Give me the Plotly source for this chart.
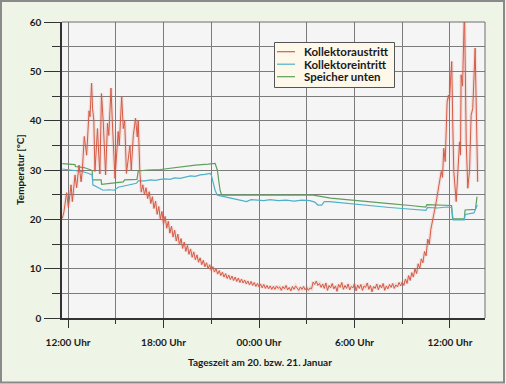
import plotly.graph_objects as go

# ---------------- data (hours since 20 Jan 00:00) ----------------
# Kollektoraustritt, afternoon of day 1 (irregular samples)
red_a_t = [11.64, 11.74, 11.91, 12.02, 12.19, 12.27, 12.44, 12.54, 12.69, 12.82,
           12.90, 13.02, 13.17, 13.32, 13.38, 13.48, 13.54, 13.62, 13.69, 13.85,
           13.93, 14.00, 14.10, 14.21, 14.36, 14.48, 14.56, 14.70, 14.78, 14.95,
           15.15, 15.22, 15.37, 15.47, 15.56, 15.67, 15.89, 15.97, 16.10, 16.24,
           16.35, 16.41, 16.51, 16.60]
red_a_v = [20.2, 21.5, 25.4, 22.4, 27.0, 23.6, 29.0, 26.4, 31.0, 27.6,
           30.0, 36.8, 33.0, 42.0, 40.8, 47.6, 42.5, 40.0, 29.7, 38.4,
           33.0, 29.2, 45.5, 39.8, 29.0, 39.5, 37.0, 46.6, 40.0, 28.3,
           37.8, 35.0, 45.0, 38.4, 40.0, 29.3, 35.0, 30.0, 37.0, 40.5,
           36.7, 40.0, 29.7, 25.5]

# Kollektoraustritt, evening / night / morning (sampled every 0.1 h from 16.7 h)
red_b_start = 16.7
red_b_step = 0.1
red_b_v = [27.0, 25.0, 26.4, 24.2, 25.6, 23.2, 24.6, 22.2, 23.7, 21.0,
           22.6, 20.0, 21.6, 19.0, 20.6, 18.2, 19.6, 17.2, 18.6, 16.4,
           17.8, 15.6, 17.0, 14.8, 16.1, 14.1, 15.4, 13.5, 14.7, 12.9,
           14.0, 12.3, 13.4, 11.8, 12.8, 11.3, 12.2, 10.8, 11.7, 10.4,
           11.2, 10.0, 10.8, 9.6, 10.4, 9.3, 10.0, 8.9, 9.6, 8.6,
           9.3, 8.3, 9.0,
           8.0, 8.7, 7.8, 8.5, 7.6, 8.3, 7.4, 8.1, 7.2, 7.9,
           7.1, 7.7, 6.9, 7.5, 6.7, 7.4, 6.6, 7.2, 6.4, 7.0,
           6.3, 6.9, 6.1, 6.8, 6.0, 6.6, 5.9, 6.5, 5.8, 6.4,
           5.8, 6.5, 6.0, 6.3, 5.6, 6.4, 5.9, 6.6, 5.7, 6.2,
           5.5, 6.4, 5.8, 6.5, 6.0, 5.6, 6.3, 5.8, 6.4, 5.7,
           6.2, 5.6, 6.1, 5.9,
           7.3, 6.8, 7.5, 6.6, 7.0, 6.2,
           6.9, 6.0, 7.1, 5.6, 6.6, 6.1, 7.0, 5.9, 6.5, 5.4,
           6.8, 6.2, 7.2, 5.8, 6.6, 6.0, 6.9, 5.7, 6.4, 6.1,
           7.0, 5.5, 6.7, 6.0, 6.8, 5.6, 6.5, 6.2, 7.1, 5.8,
           6.6, 5.3, 6.4, 6.0, 6.9, 5.7, 6.7, 6.1, 7.0, 5.6,
           6.5, 5.9, 6.8, 6.2, 7.0, 6.0, 6.7, 6.3, 7.2, 6.5,
           7.3, 6.6, 7.9, 7.0, 8.6, 7.6, 9.2, 8.3, 10.0, 9.0,
           11.0, 10.0, 12.0, 11.2, 13.5, 12.6, 16.0, 15.0, 18.0]

# Kollektoraustritt, midday of day 2 (irregular samples)
red_d_t = [34.90, 35.03, 35.14, 35.24, 35.34, 35.45, 35.53, 35.61, 35.70, 35.82,
           35.91, 35.97, 36.03, 36.11, 36.17, 36.24, 36.39, 36.49, 36.60, 36.66,
           36.70, 36.79, 36.91, 37.02, 37.12, 37.23, 37.33, 37.43, 37.58, 37.64,
           37.74]
red_d_v = [19.5, 21.5, 23.6, 25.6, 27.6, 29.7, 28.5, 34.4, 31.7, 43.8,
           45.2, 44.0, 47.9, 52.0, 40.0, 29.7, 23.6, 31.0, 35.7, 33.0,
           49.3, 47.0, 63.0, 35.7, 26.3, 30.0, 41.1, 42.5, 54.7, 44.6,
           27.6]

# Kollektoreintritt
cyan_t = [11.64, 12.2, 12.5, 12.9, 13.3, 13.52, 13.56, 13.8, 14.0, 14.2,
          14.6, 14.9, 15.15, 15.5, 15.9, 16.3, 16.41, 16.8, 17.2, 17.5,
          17.8, 18.1, 18.4, 18.7, 19.04, 19.4, 19.7, 20.0, 20.3, 20.6,
          20.92, 21.0, 21.09, 21.24, 21.38, 21.76, 22.2, 22.8, 23.22, 23.5,
          23.85, 24.3, 24.7, 25.2, 25.7, 26.2, 26.7, 27.2, 27.5, 27.7,
          27.94, 28.1, 28.44, 29.0, 29.6, 30.33, 31.0, 31.6, 32.21, 33.0,
          33.8, 34.48, 34.6, 35.2, 35.8, 36.1, 36.2, 36.9, 36.95, 37.5,
          37.6, 37.72]
cyan_v = [30.2, 30.0, 29.8, 29.7, 29.3, 29.0, 27.0, 26.6, 26.4, 25.9,
          26.0, 25.9, 26.5, 26.7, 27.0, 27.3, 27.8, 27.8, 28.0, 27.9,
          28.1, 28.2, 28.1, 28.4, 28.3, 28.6, 28.8, 28.7, 29.0, 29.1,
          29.3, 29.0, 27.7, 25.9, 24.9, 24.6, 24.3, 23.9, 23.6, 24.0,
          23.9, 23.8, 24.0, 23.8, 23.9, 23.7, 23.9, 23.8, 23.5, 22.9,
          22.9, 23.6, 23.6, 23.4, 23.2, 23.0, 22.8, 22.6, 22.4, 22.2,
          22.0, 21.8, 22.4, 22.3, 22.5, 22.4, 19.9, 19.9, 21.0, 21.3,
          22.0, 22.9]

# Speicher unten
green_t = [11.64, 12.1, 12.44, 12.46, 13.0, 13.45, 13.52, 13.54, 14.08, 14.11,
           14.6, 15.0, 15.47, 15.55, 16.33, 16.41, 17.0, 17.8, 18.5, 19.3,
           20.0, 20.8, 21.24, 21.38, 21.55, 21.66, 23.0, 25.0, 27.4, 28.5,
           30.0, 31.0, 32.2, 33.5, 34.48, 34.55, 35.5, 36.1, 36.16, 36.9,
           36.95, 37.6, 37.7]
green_v = [31.3, 31.2, 31.1, 30.7, 30.5, 30.0, 29.8, 28.0, 28.0, 27.1,
           27.3, 27.4, 27.6, 28.0, 28.1, 29.8, 30.0, 30.1, 30.4, 30.7,
           31.0, 31.2, 31.35, 30.0, 25.9, 24.9, 24.9, 24.9, 24.9, 24.3,
           23.8, 23.5, 23.2, 22.8, 22.5, 23.0, 22.9, 22.8, 20.1, 20.1,
           21.9, 22.0, 24.6]

x_tickvals = [12, 18, 24, 30, 36]
x_ticktext = ["12:00 Uhr", "18:00 Uhr", "00:00 Uhr", "6:00 Uhr", "12:00 Uhr"]
x_minorvals = [15, 21, 27, 33]
series_names = ["Kollektoraustritt", "Kollektoreintritt", "Speicher unten"]

# ---------------- build ----------------
red_b_t = [round(red_b_start + red_b_step * i, 2) for i in range(len(red_b_v))]
red_t = red_a_t + red_b_t + red_d_t
red_v = red_a_v + red_b_v + red_d_v

RED = "#d65b46"
CYAN = "#4cb2c9"
GREEN = "#5f9f5c"
TXT = "#1a1a1a"

W, H = 506, 384
ML, MR, MT, MB = 62, 21, 22, 66
PW, PH = W - ML - MR, H - MT - MB


def px(x):
    return (x - ML) / PW


def py(y):
    return (H - MB - y) / PH


fig = go.Figure()
fig.add_trace(go.Scatter(x=green_t, y=green_v, mode="lines", name=series_names[2],
                         line=dict(color=GREEN, width=1.2), showlegend=False))
fig.add_trace(go.Scatter(x=cyan_t, y=cyan_v, mode="lines", name=series_names[1],
                         line=dict(color=CYAN, width=1.2), showlegend=False))
fig.add_trace(go.Scatter(x=red_t, y=red_v, mode="lines", name=series_names[0] + " halo",
                         line=dict(color="rgba(214,91,70,0.14)", width=3.5),
                         showlegend=False, hoverinfo="skip"))
fig.add_trace(go.Scatter(x=red_t, y=red_v, mode="lines", name=series_names[0],
                         line=dict(color=RED, width=1), showlegend=False))

font = dict(family="Lato, Open Sans, sans-serif", size=10, color=TXT, weight="bold")

fig.update_layout(
    width=W, height=H,
    margin=dict(l=ML, r=MR, t=MT, b=MB, autoexpand=False),
    paper_bgcolor="#eef5e7",
    plot_bgcolor="#f5f5f5",
    font=font,
    showlegend=False,
    xaxis=dict(range=[11.62, 38.2], tickmode="array", tickvals=x_tickvals, ticktext=x_ticktext,
               showgrid=True, gridcolor="#7c7c7c", gridwidth=1,
               ticks="outside", ticklen=8, tickcolor="#333", tickwidth=1,
               showline=True, linecolor="#333", linewidth=1.5,
               ticklabelstandoff=6, zeroline=False,
               minor=dict(tickmode="array", tickvals=x_minorvals, showgrid=True,
                          gridcolor="#7c7c7c", gridwidth=1, ticks="outside", ticklen=4,
                          tickcolor="#333")),
    yaxis=dict(range=[0, 60], dtick=10, tick0=0,
               showgrid=True, gridcolor="#7c7c7c", gridwidth=1,
               ticks="outside", ticklen=16, tickcolor="#333", tickwidth=1,
               showline=True, linecolor="#333", linewidth=1.5,
               ticklabelstandoff=1, zeroline=False,
               minor=dict(dtick=5, tick0=0, showgrid=True, gridcolor="#7c7c7c", gridwidth=1,
                          ticks="outside", ticklen=8, tickcolor="#333")),
)

shapes = []
# plot frame top/right
shapes.append(dict(type="line", xref="paper", yref="paper", x0=0, x1=1, y0=1, y1=1,
                   line=dict(color="#6e6e6e", width=1), layer="above"))
shapes.append(dict(type="line", xref="paper", yref="paper", x0=1, x1=1, y0=0, y1=1,
                   line=dict(color="#6e6e6e", width=1), layer="above"))
# outer frame
shapes.append(dict(type="rect", xref="paper", yref="paper",
                   x0=px(1), x1=px(504), y0=py(382.5), y1=py(1),
                   line=dict(color="#8a8a8a", width=2), layer="above"))
# legend box
shapes.append(dict(type="rect", xref="paper", yref="paper",
                   x0=px(274.5), x1=px(394.5), y0=py(87.5), y1=py(42.5),
                   fillcolor="#fdf8ea", line=dict(color="#555", width=1), layer="above"))
legend_rows = [51.7, 64.2, 76.7]
legend_cols = [RED, CYAN, GREEN]
annotations = []
for name, col, yy in zip(series_names, legend_cols, legend_rows):
    shapes.append(dict(type="line", xref="paper", yref="paper", x0=px(277), x1=px(295),
                       y0=py(yy), y1=py(yy), line=dict(color=col, width=1.2), layer="above"))
    annotations.append(dict(text=name, xref="paper", yref="paper", x=px(302), y=py(yy),
                            xanchor="left", yanchor="middle", showarrow=False,
                            font=dict(family="Lato, Open Sans, sans-serif", size=11.5,
                                      color=TXT, weight="bold")))

annotations.append(dict(text="Temperatur [°C]", xref="paper", yref="paper",
                        x=px(20), y=py(170), textangle=-90, xanchor="center", yanchor="middle",
                        showarrow=False, font=font))
annotations.append(dict(text="Tageszeit am 20. bzw. 21. Januar", xref="paper", yref="paper",
                        x=px(260), y=py(362), xanchor="center", yanchor="middle",
                        showarrow=False, font=font))

fig.update_layout(shapes=shapes, annotations=annotations)
fig.write_html("out.html", config={"displayModeBar": False},
               post_script="document.body.style.margin='0';")
